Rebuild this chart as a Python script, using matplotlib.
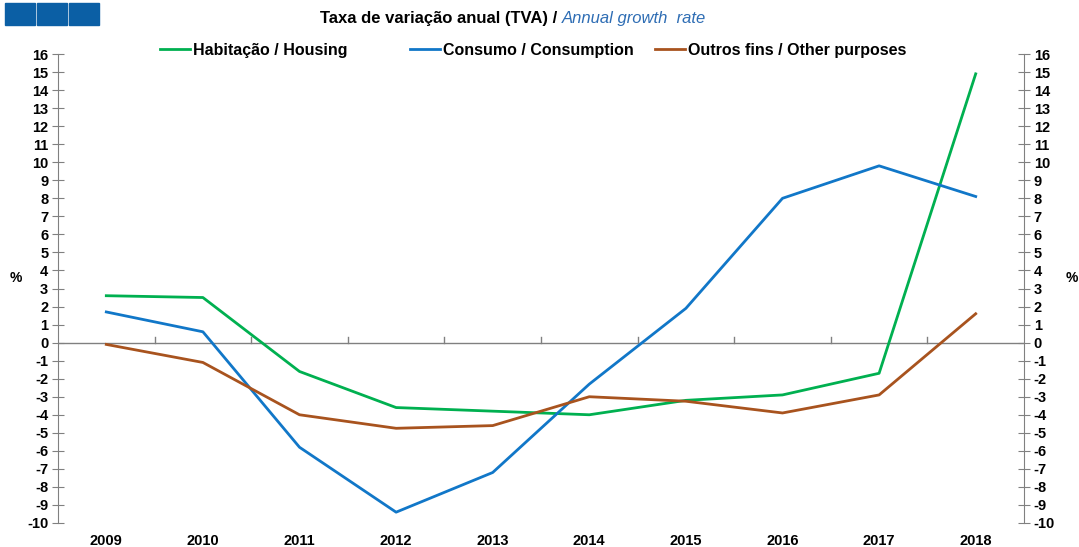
import numpy as np
import matplotlib.pyplot as plt
from matplotlib.patches import Rectangle

plt.rcParams['font.family'] = ['Liberation Sans', 'DejaVu Sans']

# Data
years = ['2009', '2010', '2011', '2012', '2013', '2014', '2015', '2016', '2017', '2018']
housing = [2.6, 2.5, -1.6, -3.6, -3.8, -4.0, -3.2, -2.9, -1.7, 14.9]
consumption = [1.7, 0.6, -5.8, -9.4, -7.2, -2.3, 1.9, 8.0, 9.8, 8.1]
other = [-0.1, -1.1, -4.0, -4.75, -4.6, -3.0, -3.25, -3.9, -2.9, 1.6]

labels = ['Habitação / Housing', 'Consumo / Consumption', 'Outros fins / Other purposes']
colors = ['#00B050', '#1177C8', '#A8531E']
legend_x = [160, 410, 655]   # left edge of each legend entry, in pixels

fig = plt.figure(figsize=(10.79, 5.47), dpi=100)
ax = fig.add_axes([58 / 1079, 1 - 523 / 547, (1024 - 58) / 1079, (523 - 54) / 547])

x = np.arange(len(years))
lines = []
for vals, lab, col in zip([housing, consumption, other], labels, colors):
    ln, = ax.plot(x, vals, color=col, lw=2.0, label=lab)
    lines.append(ln)

ax.set_xlim(-0.5, len(years) - 0.5)
ax.set_ylim(-10, 16)
ax.axhline(0, color='#808080', lw=1, zorder=0)

# zero-line ticks between categories
for b in np.arange(0.5, len(years) - 0.5, 1):
    ax.plot([b, b], [0, 0.3], color='#808080', lw=1, zorder=0)

for s in ['top', 'bottom']:
    ax.spines[s].set_visible(False)
for s in ['left', 'right']:
    ax.spines[s].set_color('#808080')

yt = np.arange(-10, 17, 1)
ax.set_yticks(yt)
ax.set_yticklabels([str(v) for v in yt], fontsize=10.5, fontweight='bold')
ax.tick_params(axis='y', direction='inout', length=8, color='#808080', left=True, right=True,
               labelleft=True, labelright=True, pad=3)
ax.set_xticks(x)
ax.set_xticklabels(years, fontsize=10.5, fontweight='bold')
ax.tick_params(axis='x', length=0, pad=8)

fig.text(16 / 1079, 1 - 278 / 547, '%', fontsize=10, fontweight='bold', ha='center', va='center')
fig.text(1072 / 1079, 1 - 278 / 547, '%', fontsize=10, fontweight='bold', ha='center', va='center')

# header boxes
for i in range(3):
    fig.add_artist(Rectangle(((5 + i * 32) / 1079, 1 - 25 / 547), 30 / 1079, 22 / 547,
                             transform=fig.transFigure, color='#0B5FA5'))

# title
fig.text(562 / 1079, 1 - 18 / 547, 'Taxa de variação anual (TVA) / ', fontsize=12,
         fontweight='bold', ha='right', va='center')
fig.text(562 / 1079, 1 - 18 / 547, 'Annual growth  rate', fontsize=12, fontstyle='italic',
         color='#2E6DB4', ha='left', va='center')

# legend entries, one per series
for ln, lx in zip(lines, legend_x):
    fig.legend([ln], [ln.get_label()], loc='center left',
               bbox_to_anchor=(lx / 1079, 1 - 50 / 547), frameon=False,
               prop={'weight': 'bold', 'size': 11.5}, handlelength=1.9,
               handletextpad=0.15, borderpad=0, borderaxespad=0)

fig.savefig('out.png', dpi=100)
